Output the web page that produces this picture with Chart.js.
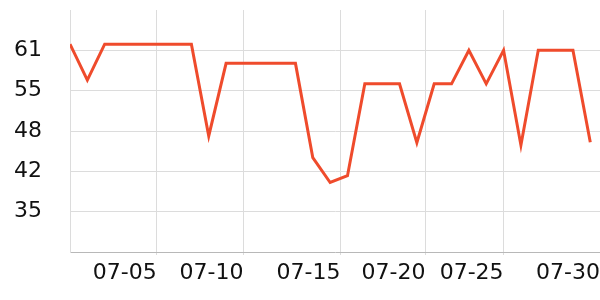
<!DOCTYPE html>
<html>
<head>
<meta charset="utf-8">
<script src="https://cdn.jsdelivr.net/npm/chart.js@4/dist/chart.umd.min.js"></script>
<style>
    html, body { margin: 0; padding: 0; background: #fff; }
    #wrap { width: 600px; height: 300px; }
</style>
</head>
<body>
<div id="wrap"><canvas id="chart"></canvas></div>
<script>
// Daily points, 06-30 .. 07-30
const days = ['06-30', '07-01', '07-02', '07-03', '07-04', '07-05', '07-06', '07-07', '07-08', '07-09',
    '07-10', '07-11', '07-12', '07-13', '07-14', '07-15', '07-16', '07-17', '07-18', '07-19',
    '07-20', '07-21', '07-22', '07-23', '07-24', '07-25', '07-26', '07-27', '07-28', '07-29', '07-30'];
const values = [62, 56.2, 62, 62, 62, 62, 62, 62, 47.2, 58.9,
    58.9, 58.9, 58.9, 58.9, 43.7, 39.7, 40.8, 55.6, 55.6, 55.6,
    46.1, 55.6, 55.6, 61, 55.6, 61, 45.7, 61, 61, 61, 46.2];

// x axis ticks (in day units from the first point) and their labels
const xTickValues = [5, 10, 15.6, 20.5, 25, 30.56];
const xTickLabels = ['07-05', '07-10', '07-15', '07-20', '07-25', '07-30'];

// y axis range
const yMin = 28.5;
const yMax = 67.5;
const yStep = 6.5;

const points = values.map((v, i) => ({ x: i, y: v }));

// don't let the labels push the plot area in
function noPadding(scale) {
    scale.paddingLeft = 0;
    scale.paddingRight = 0;
    scale.paddingTop = 0;
    scale.paddingBottom = 0;
}

const ctx = document.getElementById('chart').getContext('2d');
new Chart(ctx, {
    type: 'line',
    data: {
        labels: days,
        datasets: [{
            data: points,
            borderColor: '#ef4b2c',
            borderWidth: 3,
            pointRadius: 0,
            tension: 0,
            fill: false
        }]
    },
    options: {
        responsive: true,
        maintainAspectRatio: false,
        animation: false,
        layout: {
            padding: { left: 0, top: 10, right: 0, bottom: 0 }
        },
        plugins: {
            legend: { display: false },
            tooltip: { enabled: false }
        },
        scales: {
            x: {
                type: 'linear',
                min: 0,
                max: xTickValues[xTickValues.length - 1],
                afterBuildTicks: function(axis) {
                    axis.ticks = xTickValues.map(v => ({ value: v }));
                },
                afterFit: function(scale) {
                    noPadding(scale);
                    scale.height = 48;
                },
                grid: {
                    color: '#dcdcdc',
                    tickLength: 3
                },
                border: { color: '#b8b8b8' },
                ticks: {
                    autoSkip: false,
                    maxRotation: 0,
                    align: 'end',
                    padding: 5,
                    color: '#111',
                    font: { family: 'DejaVu Sans', size: 22 },
                    callback: function(value, index) {
                        return xTickLabels[index];
                    }
                }
            },
            y: {
                min: yMin,
                max: yMax,
                afterFit: function(scale) {
                    noPadding(scale);
                    scale.width = 70;
                },
                grid: {
                    drawTicks: false,
                    color: function(c) {
                        if (c.tick && (c.tick.value === yMin || c.tick.value === yMax)) return 'rgba(0,0,0,0)';
                        return '#dcdcdc';
                    }
                },
                border: { color: '#dcdcdc' },
                ticks: {
                    stepSize: yStep,
                    padding: 28,
                    color: '#111',
                    font: { family: 'DejaVu Sans', size: 22 },
                    callback: function(value) {
                        if (value === yMin || value === yMax) return '';
                        return Math.round(value);
                    }
                }
            }
        }
    }
});
</script>
</body>
</html>
